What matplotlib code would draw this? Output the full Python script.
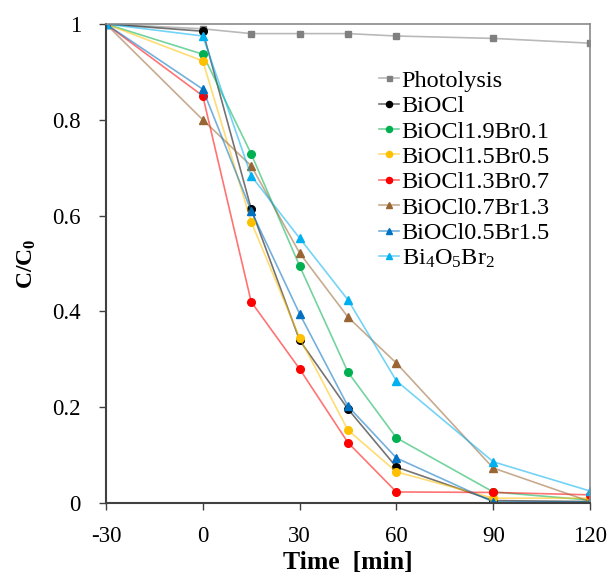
import matplotlib
matplotlib.use('Agg')
import matplotlib.pyplot as plt
from matplotlib.colors import to_rgba

plt.rcParams['font.family'] = ['Liberation Serif', 'DejaVu Serif']
plt.rcParams['mathtext.fontset'] = 'custom'
plt.rcParams['mathtext.rm'] = 'Liberation Serif'
plt.rcParams['mathtext.bf'] = 'Liberation Serif:bold'
plt.rcParams['mathtext.it'] = 'Liberation Serif:italic'
plt.rcParams['axes.unicode_minus'] = False

# time points (min)
time = [-30, 0, 15, 30, 45, 60, 90, 120]

# C/C0
photolysis = [1.0, 0.990, 0.980, 0.980, 0.980, 0.975, 0.970, 0.960]
biocl = [1.0, 0.985, 0.614, 0.340, 0.196, 0.075, 0.005, 0.003]
biocl19 = [1.0, 0.937, 0.729, 0.495, 0.273, 0.136, 0.023, 0.006]
biocl15 = [1.0, 0.923, 0.587, 0.345, 0.152, 0.065, 0.010, 0.010]
biocl13 = [1.0, 0.850, 0.420, 0.280, 0.126, 0.023, 0.022, 0.017]
biocl07 = [1.0, 0.800, 0.704, 0.522, 0.388, 0.292, 0.073, 0.003]
biocl05 = [1.0, 0.864, 0.610, 0.395, 0.202, 0.094, 0.002, 0.002]
bi4o5br2 = [1.0, 0.975, 0.683, 0.553, 0.424, 0.255, 0.086, 0.025]

series = [
    ('Photolysis', photolysis, '#808080', 's'),
    ('BiOCl', biocl, '#000000', 'o'),
    ('BiOCl1.9Br0.1', biocl19, '#00b050', 'o'),
    ('BiOCl1.5Br0.5', biocl15, '#ffc000', 'o'),
    ('BiOCl1.3Br0.7', biocl13, '#ff0000', 'o'),
    ('BiOCl0.7Br1.3', biocl07, '#996633', '^'),
    ('BiOCl0.5Br1.5', biocl05, '#0070c0', '^'),
    (r'Bi$_4$O$_5$Br$_2$', bi4o5br2, '#00b0f0', '^'),
]

fig = plt.figure(figsize=(6.08, 5.79), dpi=100)
ax = fig.add_axes([0.1743, 0.1313, 0.7961, 0.8272])

for name, vals, col, mk in series:
    ms = 4.5 if mk == 's' else 5.5
    ax.plot(time, vals, color=to_rgba(col, 0.55), lw=1.2, marker=mk, ms=ms,
            markerfacecolor=col, markeredgecolor=col, label=name)

ax.set_xlim(-30, 120)
ax.set_ylim(0, 1)
ax.set_xticks([-30, 0, 30, 60, 90, 120])
ax.set_yticks([0, 0.2, 0.4, 0.6, 0.8, 1.0])
ax.set_yticklabels(['0', '0.2', '0.4', '0.6', '0.8', '1'])
ax.tick_params(direction='out', length=5, width=1, labelsize=16.5, colors='#404040',
               labelcolor='black', top=False, right=False)
ax.tick_params(axis='y', pad=13)
ax.tick_params(axis='x', pad=11.5)

for s in ['left', 'bottom']:
    ax.spines[s].set_color('#404040')
    ax.spines[s].set_linewidth(1.5)
for s in ['top', 'right']:
    ax.spines[s].set_color('#8a8a8a')
    ax.spines[s].set_linewidth(1.2)

ax.set_xlabel('Time  [min]', fontsize=18.5, fontweight='bold', labelpad=3)
ax.set_ylabel(r'C/C$_\mathbf{0}$', fontsize=17, fontweight='bold')
ax.yaxis.set_label_coords(-0.14, 0.5)

ax.legend(loc='upper left', bbox_to_anchor=(0.543, 0.925), frameon=False,
          fontsize=17.5, handlelength=0.85, handletextpad=0.1, labelspacing=0.14,
          markerscale=0.8, borderaxespad=0)

fig.savefig('out.png', dpi=100)
